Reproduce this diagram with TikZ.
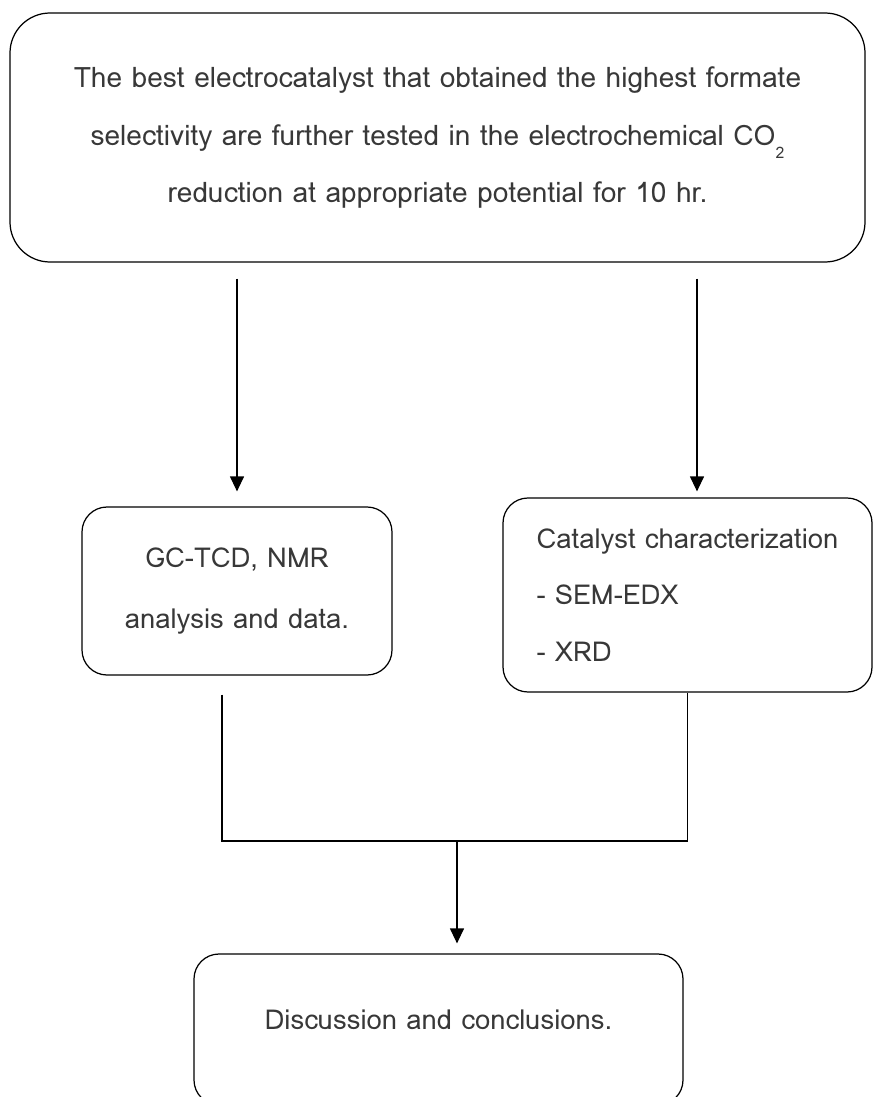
\documentclass[tikz,border=0pt]{standalone}
\usepackage{fontspec}
\setmainfont{Loma}
\usetikzlibrary{arrows.meta}

\begin{document}
\begin{tikzpicture}[
        box/.style={draw, rectangle, rounded corners=0.5cm, line width=0.7pt, align=center, text=black!78,
                    font=\fontsize{16}{33}\selectfont},
        line/.style={line width=0.7pt},
        arrow/.style={line width=0.7pt, -{Triangle[width=0.28cm, length=0.3cm]}}
    ]

    % Page frame taken from the original figure
    \useasboundingbox (0, 0) rectangle (17.46, -21.94);

    % Explicit coordinates, same layout as the figure
    \node[box, rounded corners=0.8cm, minimum width=17.1cm, minimum height=4.98cm] (best) at (8.75, -2.75)
        {The best electrocatalyst that obtained the highest formate\\
         selectivity are further tested in the electrochemical CO\raisebox{-0.9ex}{\fontsize{9}{9}\selectfont 2}\\
         reduction at appropriate potential for 10 hr.};

    \node[box, minimum width=6.2cm, minimum height=3.36cm, font=\fontsize{15.6}{35}\selectfont] (gc) at (4.74, -11.82)
        {GC-TCD, NMR\\analysis and data.};
    \node[box, align=left, minimum width=7.38cm, minimum height=3.88cm,
          font=\fontsize{15.6}{32}\selectfont] (cat) at (13.75, -11.9)
        {Catalyst characterization\\- SEM-EDX\\- XRD};

    \node[box, minimum width=9.78cm, minimum height=3.02cm, text height=0.5cm, text depth=0.5cm,
          font=\fontsize{15.6}{32}\selectfont] (final) at (8.77, -20.59)
        {Discussion and conclusions.};

    % Connections down
    \coordinate (catin) at ([xshift=0.19cm]cat.north);
    \draw[arrow, shorten <=0.32cm, shorten >=0.3cm] (best.south -| gc.north) -- (gc.north);
    \draw[arrow, shorten <=0.32cm, shorten >=0.12cm] (catin |- best.south) -- (catin);

    % Results joined into one
    \coordinate (gcout) at ([xshift=-0.3cm, yshift=-0.38cm]gc.south);
    \coordinate (join) at (9.14, -16.82);
    \draw[line] (gcout) |- (join) -| (cat.south);
    \draw[arrow, shorten >=0.2cm] (join) -- (join |- final.north);

    \end{tikzpicture}
\end{document}
